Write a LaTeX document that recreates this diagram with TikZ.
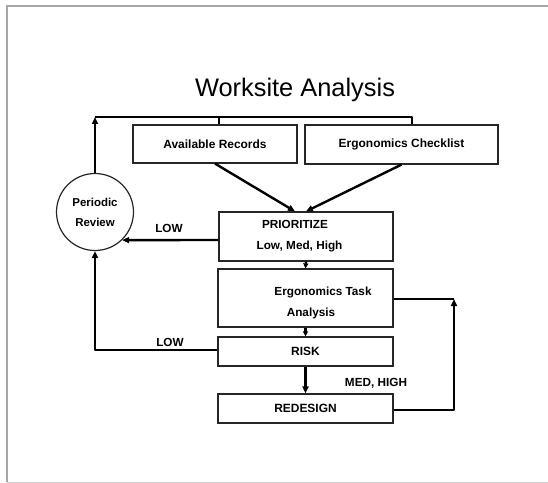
\documentclass[tikz,border=0pt]{standalone}
\usepackage{fontspec}
\setmainfont{Liberation Sans}
\usetikzlibrary{arrows.meta}
\begin{document}
\begin{tikzpicture}[x=1bp,y=-1bp,
  box/.style={draw=black!85,line width=1.2bp,rectangle,inner sep=0pt,
    font=\bfseries\fontsize{12}{14}\selectfont},
  conn/.style={line width=2.4bp,black},
  tip/.style={-{Triangle[length=7bp,width=6bp]}},
  shorttip/.style={-{Triangle[length=5bp,width=5bp]}},
  lbl/.style={inner sep=0pt,font=\bfseries\fontsize{11.8}{14}\selectfont},
]
\useasboundingbox (0,0) rectangle (548,483);

% page frame
\draw[gray!70,line width=2bp] (7,482) -- (7,6) -- (548,6);
\draw[gray!35,line width=1bp] (7,482) -- (548,482);

% title
\node[anchor=base,inner sep=0pt,font=\fontsize{25.5}{30}\selectfont] (title) at (295,97) {Worksite Analysis};

% boxes
\node[box,minimum width=164bp,minimum height=38bp] (ar) at (215,144) {Available Records};
\node[box,minimum width=193bp,minimum height=39bp] (ec) at (401.5,144.5) {Ergonomics Checklist};

\node[box,minimum width=174bp,minimum height=49bp] (pri) at (306,236.5) {};
\node[lbl,anchor=base] (pri1) at (295,228) {PRIORITIZE};
\node[lbl,anchor=base] (pri2) at (299.5,249) {Low, Med, High};

\node[box,minimum width=175bp,minimum height=58bp] (eta) at (305.5,298) {};
\node[lbl,anchor=base] (eta1) at (323,295) {Ergonomics Task};
\node[lbl,anchor=base] (eta2) at (311,316) {Analysis};

\node[box,minimum width=175bp,minimum height=29bp] (risk) at (305.5,351.5) {RISK};
\node[box,minimum width=175bp,minimum height=29bp] (red) at (305.5,408.5) {REDESIGN};

\node[circle,draw=black!85,line width=1.2bp,minimum size=77bp,inner sep=0pt,align=center,
  font=\bfseries\fontsize{11.5}{20}\selectfont] (pr) at (95,212) {Periodic\\Review};

% feedback from periodic review to the two sources
\coordinate (tl) at (95,117);
\coordinate (tr) at (412,117);
\coordinate (tm) at (219,117);
\draw[conn,tip] (pr.north) -- (tl);
\draw[conn,line join=round] (tl) -- (tr) -- (tr |- ec.north);
\draw[conn] (tm) -- (tm |- ar.north);

% sources into prioritize
\draw[conn,tip] (ar.south) -- ([xshift=-11bp]pri.north);
\draw[conn,tip] (ec.south) -- (pri.north);

% low priority back to review
\draw[conn,tip] ([yshift=-3.5bp]pri.west) -- (pr.-46.7);
\node[lbl,anchor=base] (low1) at (169,232) {LOW};

% main chain
\draw[conn,shorttip] (pri.south) -- (eta.north);
\draw[conn,shorttip] (eta.south) -- (risk.north);
\draw[conn,tip] (risk.south) -- (red.north);

% low risk back to review
\draw[conn,tip,line join=round] ([yshift=1.5bp]risk.west) -| (pr.south);
\node[lbl,anchor=base] (low2) at (170,346) {LOW};

% redesign loops back to task analysis
\coordinate (rc) at (454,299);
\draw[conn,tip,line join=round] ([yshift=-1.5bp]red.east) -| (rc);
\draw[conn] (rc) -- ([yshift=-1bp]eta.east);
\node[lbl,anchor=base] (mh) at (376,386) {MED, HIGH};
\end{tikzpicture}
\end{document}
